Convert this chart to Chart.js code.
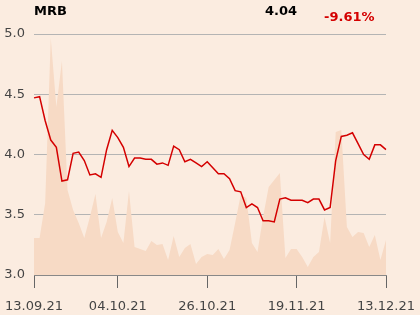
<!DOCTYPE html>
<html>
<head>
<meta charset="utf-8">
<script src="https://cdn.jsdelivr.net/npm/chart.js@4"></script>
<style>
  html, body { margin: 0; padding: 0; background: #fbece0; }
  #wrap { position: relative; width: 420px; height: 315px; }
  canvas { position: absolute; left: 0; top: 0; }
  .hdr { position: absolute; font-family: "DejaVu Sans", sans-serif; font-weight: bold; font-size: 13px; line-height: 15px; white-space: nowrap; }
</style>
</head>
<body>
<div id="wrap">
  <canvas id="c" width="420" height="315"></canvas>
  <div class="hdr" style="left:34px;top:3px;color:#000;">MRB</div>
  <div class="hdr" style="left:265px;top:3px;color:#000;">4.04</div>
  <div class="hdr" style="left:324px;top:9px;color:#d40000;">-9.61%</div>
</div>
<script>
const dates = [
  '13.09.21','14.09.21','15.09.21','16.09.21','17.09.21','20.09.21','21.09.21','22.09.21','23.09.21','24.09.21',
  '27.09.21','28.09.21','29.09.21','30.09.21','01.10.21','04.10.21','05.10.21','06.10.21','07.10.21','08.10.21',
  '11.10.21','12.10.21','13.10.21','14.10.21','15.10.21','18.10.21','19.10.21','20.10.21','21.10.21','22.10.21',
  '25.10.21','26.10.21','27.10.21','28.10.21','29.10.21','01.11.21','02.11.21','03.11.21','08.11.21','09.11.21',
  '10.11.21','11.11.21','12.11.21','15.11.21','16.11.21','17.11.21','18.11.21','19.11.21','22.11.21','23.11.21',
  '24.11.21','25.11.21','26.11.21','29.11.21','30.11.21','01.12.21','02.12.21','03.12.21','06.12.21','07.12.21',
  '08.12.21','09.12.21','10.12.21','13.12.21'
];
const prices = [
  4.47,4.48,4.28,4.12,4.06,3.78,3.79,4.01,4.02,3.95,
  3.83,3.84,3.81,4.04,4.20,4.14,4.06,3.90,3.97,3.97,
  3.96,3.96,3.92,3.93,3.91,4.07,4.04,3.94,3.96,3.93,
  3.90,3.94,3.89,3.84,3.84,3.80,3.70,3.69,3.56,3.59,
  3.56,3.45,3.45,3.44,3.63,3.64,3.62,3.62,3.62,3.60,
  3.63,3.63,3.54,3.56,3.95,4.15,4.16,4.18,4.09,4.00,
  3.96,4.08,4.08,4.04
];
const volumes = [
  37,37,72,237,168,214,85,65,52,37,
  58,81,37,53,77,43,32,84,28,26,
  24,34,30,31,15,39,18,27,31,11,
  18,21,20,26,16,25,52,80,77,32,
  23,58,88,95,102,17,26,26,18,8,
  18,23,58,32,143,145,48,38,43,42,
  28,40,15,35
];
const tickLabels = ['13.09.21','04.10.21','26.10.21','19.11.21','13.12.21'];
const yTicks = [3.0, 3.5, 4.0, 4.5, 5.0];

const font = { family: 'DejaVu Sans', size: 13 };

new Chart(document.getElementById('c'), {
  type: 'line',
  data: {
    labels: dates,
    datasets: [
      {
        label: 'Price',
        data: prices,
        yAxisID: 'y',
        borderColor: '#d40000',
        borderWidth: 1.5,
        pointRadius: 0,
        tension: 0,
        fill: false,
        order: 0
      },
      {
        label: 'Volume',
        data: volumes,
        yAxisID: 'v',
        borderWidth: 0,
        borderColor: 'rgba(0,0,0,0)',
        backgroundColor: '#f7dac5',
        pointRadius: 0,
        tension: 0,
        fill: 'origin',
        order: 1
      }
    ]
  },
  options: {
    responsive: false,
    animation: false,
    events: [],
    layout: { padding: { left: 0, right: 34, top: 34, bottom: 0 } },
    plugins: { legend: { display: false }, tooltip: { enabled: false }, title: { display: false } },
    scales: {
      x: {
        type: 'category',
        offset: false,
        grid: { drawOnChartArea: false, drawTicks: true, tickLength: 13, color: '#666', lineWidth: 1 },
        border: { display: true, color: '#888', width: 1 },
        ticks: {
          autoSkip: false,
          maxRotation: 0,
          minRotation: 0,
          padding: 4,
          color: '#444',
          font: { family: 'DejaVu Sans', size: 13, lineHeight: 2.2 },
          callback: function(val, idx) {
            const l = this.getLabelForValue(val);
            return tickLabels.includes(l) ? l : null;
          }
        },
        afterFit: function(s) { s.height = 40; }
      },
      y: {
        min: 3.0,
        max: 5.0,
        z: 1,
        grid: { color: '#b4b4b4', lineWidth: 1, drawTicks: false },
        border: { display: false },
        afterBuildTicks: function(s) { s.ticks = yTicks.map(v => ({ value: v })); },
        ticks: {
          padding: 9,
          color: '#444',
          font: font,
          callback: v => Number(v).toFixed(1)
        },
        afterFit: function(s) { s.width = 34; }
      },
      v: {
        display: false,
        min: 0,
        max: 241
      }
    }
  }
});
</script>
</body>
</html>
